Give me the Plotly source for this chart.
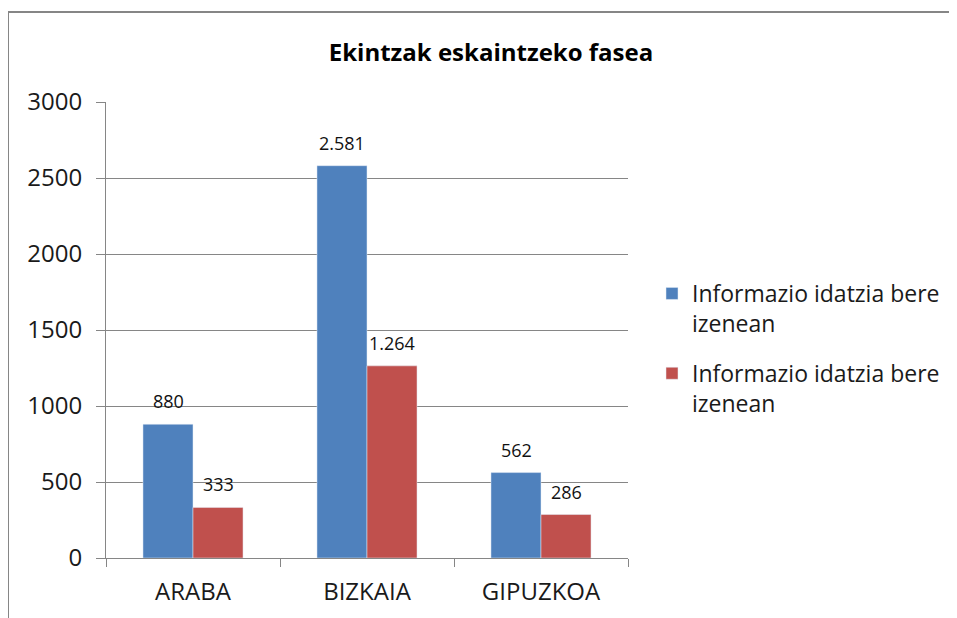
import plotly.graph_objects as go

categories = ["ARABA", "BIZKAIA", "GIPUZKOA"]
series_names = ["Informazio idatzia bere<br>izenean", "Informazio idatzia bere<br>izenean"]
series1 = [880, 2581, 562]
series2 = [333, 1264, 286]
colors = ["#4F81BD", "#C0504D"]
y_ticks = [0, 500, 1000, 1500, 2000, 2500, 3000]

FONT = "Open Sans"
W, H = 957, 618
OFF = 8  # page body margin
L, R, T, B = 106 - OFF, 628 - OFF, 102 - OFF, 558 - OFF
pw = R - L
ph = B - T

fig = go.Figure()
for i, (name, vals) in enumerate(zip(series_names, [series1, series2])):
    fig.add_trace(go.Bar(
        x=categories, y=vals, name=name, marker_color=colors[i],
        legendgroup=f"g{i}",
    ))
    for c, v in zip(categories, vals):
        fig.add_annotation(x=c, y=v, text=f"{v:,}".replace(",", "."), showarrow=False,
                           xshift=-25 if i == 0 else 25, yshift=23, yanchor="middle",
                           font=dict(size=18, family=FONT, color="#111111"))

fig.add_shape(type="rect", xref="paper", yref="paper",
              x0=(0 - L) / pw, x1=(W + 10 - L) / pw,
              y0=(B - (H + 10)) / ph, y1=(B - 4) / ph,
              line=dict(color="#868686", width=2), fillcolor="rgba(0,0,0,0)", layer="below")

fig.update_layout(
    width=W, height=H,
    margin=dict(l=L, r=W - R, t=T, b=H - B),
    paper_bgcolor="white", plot_bgcolor="white",
    separators=",.",
    barmode="group", bargap=0.425, bargroupgap=0,
    title=dict(text="<b>Ekintzak eskaintzeko fasea</b>", x=(491 - OFF) / W, xanchor="center",
               y=1 - (53 - OFF) / H, yanchor="middle",
               font=dict(size=24, family=FONT, color="#000000")),
    font=dict(family=FONT, size=18, color="#000000"),
    legend=dict(x=(652 - OFF - L) / pw, xanchor="left", y=(B - (272 - OFF)) / ph, yanchor="top",
                font=dict(size=23, family=FONT, color="#1a1a1a"), valign="top",
                tracegroupgap=17, itemwidth=30, bgcolor="rgba(0,0,0,0)"),
    showlegend=True,
)
fig.update_xaxes(showline=True, linecolor="#868686", linewidth=1,
                 ticks="outside", tickson="boundaries", ticklen=8, tickcolor="#868686",
                 ticklabelstandoff=12,
                 tickfont=dict(size=24, family=FONT, color="#1a1a1a"), showgrid=False)
fig.update_yaxes(range=[0, 3000], tickvals=y_ticks, showline=True, linecolor="#868686",
                 linewidth=1, ticks="outside", ticklen=9, tickcolor="#868686",
                 ticklabelstandoff=9,
                 showgrid=True, gridcolor="#868686", gridwidth=1, zeroline=False,
                 tickformat="d", tickfont=dict(size=24, family=FONT, color="#1a1a1a"))

fig.write_html("out.html")
